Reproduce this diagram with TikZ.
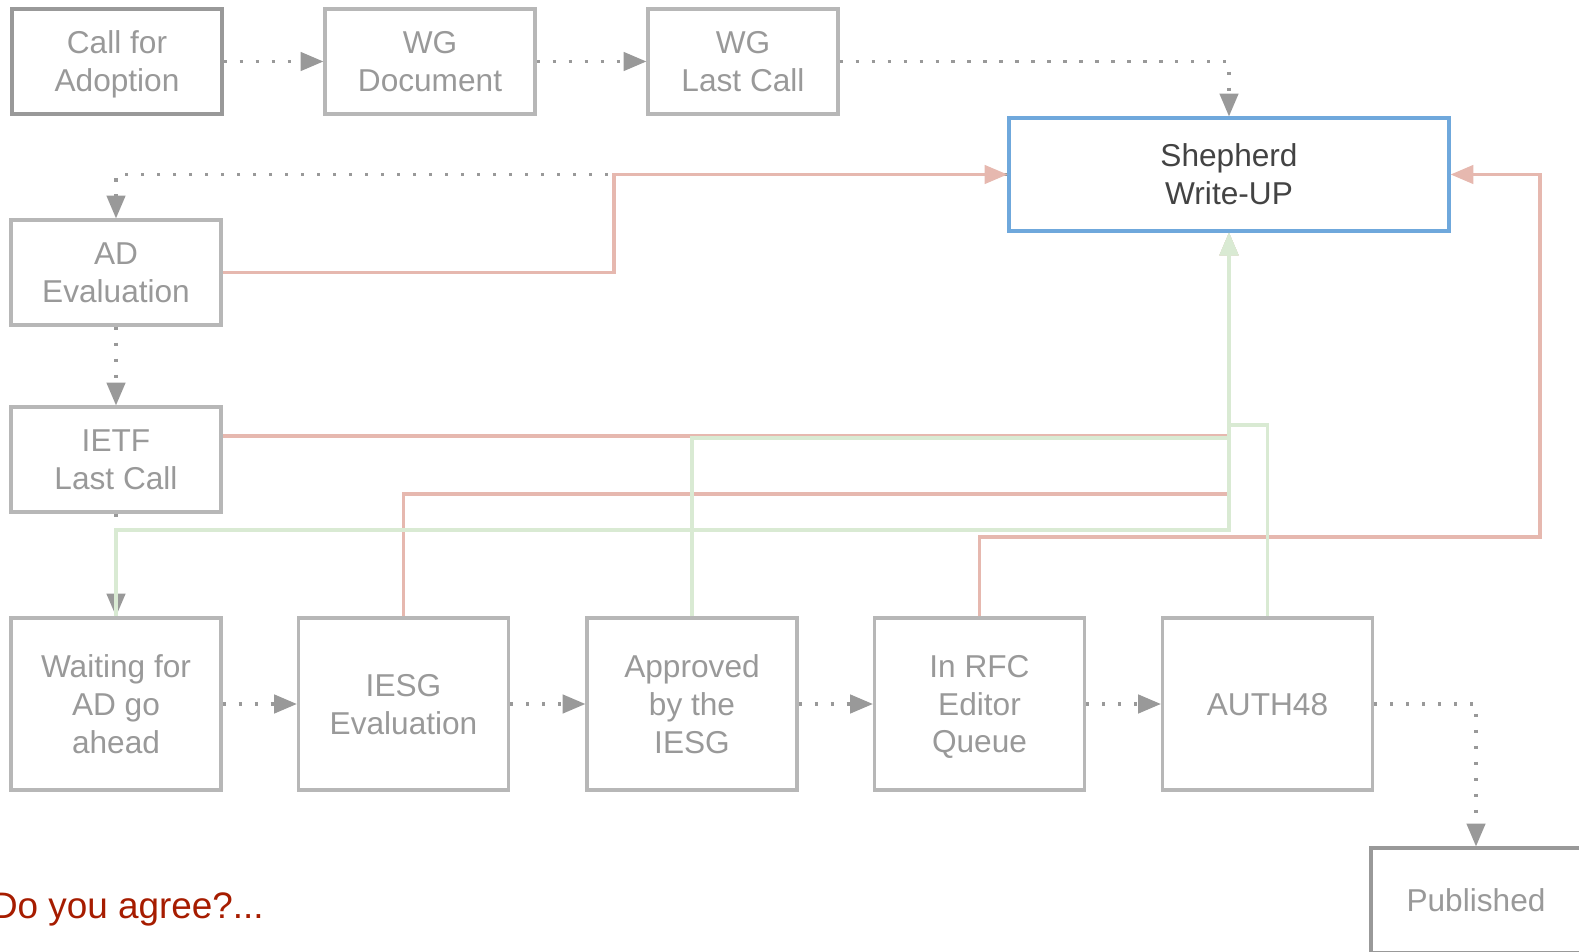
\documentclass[tikz,border=0pt]{standalone}
\usepackage{fontspec}
\setmainfont{Liberation Sans}
\usetikzlibrary{arrows.meta,positioning,calc}
\definecolor{boxgray}{HTML}{B7B7B7}
\definecolor{stepgray}{HTML}{999999}
\definecolor{shepblue}{HTML}{6FA8DC}
\definecolor{shepink}{HTML}{434343}
\definecolor{backred}{HTML}{E6B8AF}
\definecolor{fwdgreen}{HTML}{D9EAD3}
\definecolor{askred}{HTML}{A61C00}

\begin{document}
\begin{tikzpicture}[x=0.02cm,y=-0.02cm,
  stage/.style={draw=boxgray,line width=1.8pt,text=stepgray,align=center,minimum width=4.2cm,minimum height=2.1cm,inner sep=0pt,font=\fontsize{18}{21.6}\selectfont,text depth=-0.5pt},
  tall/.style={minimum height=3.44cm},
  oneline/.style={text depth=-2.8pt},
  flow/.style={stepgray,line width=1.8pt,dash pattern=on 1.8pt off 7.3pt,-{Triangle[length=13pt,width=10.5pt]}},
  back/.style={backred,line width=1.8pt,-{Triangle[length=13pt,width=10.5pt]}},
  fwd/.style={fwdgreen,line width=1.8pt,-{Triangle[length=13pt,width=10.5pt]}}]
  \useasboundingbox (0,0) rectangle (1579,952);
  \node[stage,draw=stepgray] (cfa) at (117,61.5) {Call for\\Adoption};
  \node[stage] (wgdoc) at (430,61.5) {WG\\Document};
  \node[stage,minimum width=3.8cm] (wglc) at (743,61.5) {WG\\Last Call};
  \node[stage,draw=shepblue,text=shepink,minimum width=8.8cm,minimum height=2.26cm] (shep) at (1229,174.5) {Shepherd\\Write-UP};

  \node[stage] (ade) at (116,272.5) {AD\\Evaluation};
  \node[stage] (ietf) at (116,459.5) {IETF\\Last Call};

  \node[stage,tall] (wait) at (116,704) {Waiting for\\AD go\\ahead};
  \node[stage,tall] (iesg) at (403.5,704) {IESG\\Evaluation};
  \node[stage,tall] (appr) at (692,704) {Approved\\by the\\IESG};
  \node[stage,tall] (rfcq) at (979.5,704) {In RFC\\Editor\\Queue};
  \node[stage,tall,oneline] (auth) at (1267.5,704) {AUTH48};
  \node[stage,oneline,draw=stepgray] (pub) at (1476,900.5) {Published};

  \node[text=askred,font=\fontsize{21}{25}\selectfont,anchor=base east] (ask) at (270,918) {Do you agree?...};

  % bends of the return lines
  \coordinate (rjog) at (614,174.5);
  \coordinate (busA) at (1229,436);
  \coordinate (busB) at (1229,494);
  \coordinate (busC) at (1540,537);
  \coordinate (busD) at (1229,530);
  \coordinate (busE) at (1229,438);
  \coordinate (busF) at (1229,425);

  \draw[flow] (cfa) -- (wgdoc);
  \draw[flow] (wgdoc) -- (wglc);
  \draw[flow] (wglc.east) -| (shep.north);
  \draw[flow] (shep.west) -| (ade.north);
  \draw[flow] (ade) -- (ietf);
  \draw[flow] (ietf) -- (wait);
  \draw[flow] (wait) -- (iesg);
  \draw[flow] (iesg) -- (appr);
  \draw[flow] (appr) -- (rfcq);
  \draw[flow] (rfcq) -- (auth);
  \draw[flow] (auth.east) -| (pub.north);

  \draw[back] (ade.east) -| (rjog) -- (shep.west);
  \draw[back] (ietf.east |- busA) -- (busA) -- (shep.south);
  \draw[back] (iesg.north) |- (busB) -- (shep.south);
  \draw[back] (rfcq.north) |- (busC) |- (shep.east);

  \draw[fwd] (wait.north) |- (busD) -- (shep.south);
  \draw[fwd] (appr.north) |- (busE) -- (shep.south);
  \draw[fwd] (auth.north) |- (busF) -- (shep.south);
\end{tikzpicture}
\end{document}
